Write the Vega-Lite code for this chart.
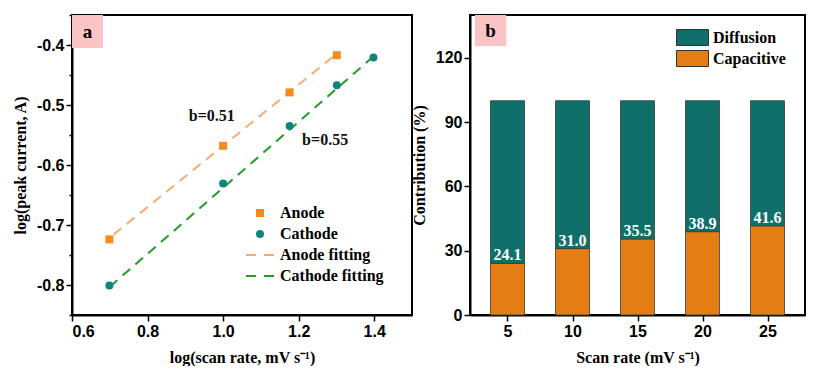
{
  "$schema": "https://vega.github.io/schema/vega-lite/v6.json",
  "padding": {"left": 11, "top": 13, "right": 0, "bottom": 0},
  "background": "white",
  "spacing": -3,
  "resolve": {"scale": {"color": "independent", "shape": "independent"}, "legend": {"color": "independent", "shape": "independent"}},
  "config": {
    "font": "Liberation Serif",
    "view": {"stroke": "black", "strokeWidth": 2},
    "axis": {
      "grid": false,
      "domainColor": "black", "domainWidth": 2,
      "tickColor": "black", "tickWidth": 1.5,
      "labelFont": "Liberation Sans", "labelFontWeight": "bold", "labelFontSize": 16, "labelColor": "black",
      "titleFont": "Liberation Serif", "titleFontWeight": "bold", "titleFontSize": 16, "titleColor": "black",
      "labelPadding": 2
    },
    "legend": {"labelFont": "Liberation Serif", "labelFontWeight": "bold", "labelFontSize": 16, "labelColor": "black"}
  },
  "datasets": {
    "points": [
      {"logv": 0.699, "logi": -0.724, "series": "Anode"},
      {"logv": 1.0, "logi": -0.568, "series": "Anode"},
      {"logv": 1.176, "logi": -0.479, "series": "Anode"},
      {"logv": 1.301, "logi": -0.417, "series": "Anode"},
      {"logv": 0.699, "logi": -0.801, "series": "Cathode"},
      {"logv": 1.0, "logi": -0.631, "series": "Cathode"},
      {"logv": 1.176, "logi": -0.535, "series": "Cathode"},
      {"logv": 1.301, "logi": -0.467, "series": "Cathode"},
      {"logv": 1.398, "logi": -0.421, "series": "Cathode"}
    ],
    "fits": [
      {"logv": 0.71, "logi": -0.716, "series": "Anode fitting"},
      {"logv": 1.30, "logi": -0.415, "series": "Anode fitting"},
      {"logv": 0.70, "logi": -0.803, "series": "Cathode fitting"},
      {"logv": 1.40, "logi": -0.418, "series": "Cathode fitting"}
    ],
    "notes": [
      {"logv": 0.97, "logi": -0.518, "label": "b=0.51"},
      {"logv": 1.27, "logi": -0.559, "label": "b=0.55"}
    ],
    "tagA": [{"x": 0.6, "x2": 0.682, "y": -0.35, "y2": -0.405, "xc": 0.641, "yc": -0.3775, "tag": "a"}],
    "bars": [
      {"rate": 5, "type": "Capacitive", "value": 24.1},
      {"rate": 5, "type": "Diffusion", "value": 75.9},
      {"rate": 10, "type": "Capacitive", "value": 31.0},
      {"rate": 10, "type": "Diffusion", "value": 69.0},
      {"rate": 15, "type": "Capacitive", "value": 35.5},
      {"rate": 15, "type": "Diffusion", "value": 64.5},
      {"rate": 20, "type": "Capacitive", "value": 38.9},
      {"rate": 20, "type": "Diffusion", "value": 61.1},
      {"rate": 25, "type": "Capacitive", "value": 41.6},
      {"rate": 25, "type": "Diffusion", "value": 58.4}
    ],
    "tagB": [{"x": 2.5, "x2": 4.9, "y": 140, "y2": 125.5, "xc": 3.7, "yc": 132.75, "tag": "b"}]
  },
  "hconcat": [
    {
      "width": 340, "height": 300,
      "resolve": {"axis": {"y": "independent"}},
      "layer": [
        {
          "data": {"name": "tagA"},
          "mark": {"type": "rect", "color": "#fbc4c4"},
          "encoding": {
            "x": {"field": "x", "type": "quantitative"},
            "x2": {"field": "x2"},
            "y": {"field": "y", "type": "quantitative",
              "scale": {"domain": [-0.85, -0.35], "nice": false, "zero": false},
              "axis": {"orient": "left", "values": [-0.85, -0.75, -0.65, -0.55, -0.45, -0.35], "labels": false, "domain": false, "tickSize": 3, "title": null}},
            "y2": {"field": "y2"}
          }
        },
        {
          "data": {"name": "fits"},
          "mark": {"type": "line", "strokeDash": [10, 7], "strokeWidth": 2},
          "encoding": {
            "x": {"field": "logv", "type": "quantitative"},
            "y": {"field": "logi", "type": "quantitative", "axis": null},
            "stroke": {"field": "series", "type": "nominal", "legend": null,
              "scale": {"domain": ["Anode fitting", "Cathode fitting"], "range": ["#f7ab76", "#1f9e25"]}}
          }
        },
        {
          "data": {"name": "points"},
          "mark": {"type": "point", "filled": true, "size": 64, "opacity": 1},
          "encoding": {
            "x": {"field": "logv", "type": "quantitative", "title": "log(scan rate, mV s⁻¹)",
              "scale": {"domain": [0.6, 1.5], "nice": false, "zero": false},
              "axis": {"values": [0.6, 0.7, 0.8, 0.9, 1.0, 1.1, 1.2, 1.3, 1.4, 1.5],
                "labelExpr": "round(datum.value*10) % 2 == 0 && datum.value < 1.45 ? format(datum.value, '.1f') : ''",
                "tickSize": {"condition": {"test": "round(datum.value*10) % 2 == 0", "value": 6}, "value": 3},
                "titlePadding": 10}},
            "y": {"field": "logi", "type": "quantitative", "title": "log(peak current, A)",
              "scale": {"domain": [-0.85, -0.35], "nice": false, "zero": false},
              "axis": {"orient": "left", "values": [-0.8, -0.7, -0.6, -0.5, -0.4], "format": ".1f",
                "labelExpr": "replace(datum.label, '−', '-')", "tickSize": 6, "titlePadding": 8}},
            "color": {"field": "series", "type": "nominal",
              "scale": {"domain": ["Anode", "Cathode", "Anode fitting", "Cathode fitting"], "range": ["#fb8a1c", "#0e857b", "#f7ab76", "#1f9e25"]},
              "legend": {"title": null, "orient": "none", "legendX": 180, "legendY": 190, "labelOffset": 12, "rowPadding": 5, "symbolSize": 64, "padding": 0}},
            "shape": {"field": "series", "type": "nominal",
              "scale": {"domain": ["Anode", "Cathode", "Anode fitting", "Cathode fitting"],
                "range": ["square", "circle", "M-3.5,-0.25 H-1 V0.25 H-3.5 Z M1,-0.25 H3.5 V0.25 H1 Z", "M-3.5,-0.25 H-1 V0.25 H-3.5 Z M1,-0.25 H3.5 V0.25 H1 Z"]},
              "legend": {"title": null, "orient": "none", "legendX": 180, "legendY": 190, "labelOffset": 12, "rowPadding": 5, "symbolSize": 64, "padding": 0}}
          }
        },
        {
          "data": {"name": "tagA"},
          "mark": {"type": "text", "font": "Liberation Serif", "fontWeight": "bold", "fontSize": 19, "color": "black", "baseline": "middle"},
          "encoding": {
            "x": {"field": "xc", "type": "quantitative"},
            "y": {"field": "yc", "type": "quantitative", "axis": null},
            "text": {"field": "tag"}
          }
        },
        {
          "data": {"name": "notes"},
          "mark": {"type": "text", "font": "Liberation Serif", "fontWeight": "bold", "fontSize": 16, "color": "#111"},
          "encoding": {
            "x": {"field": "logv", "type": "quantitative"},
            "y": {"field": "logi", "type": "quantitative", "axis": null},
            "text": {"field": "label"}
          }
        }
      ]
    },
    {
      "width": 335, "height": 300,
      "layer": [
        {
          "data": {"name": "bars"},
          "mark": {"type": "bar", "width": 34, "stroke": "#3a3a3a", "strokeWidth": 0.8},
          "encoding": {
            "x": {"field": "rate", "type": "quantitative", "title": "Scan rate (mV s⁻¹)",
              "scale": {"domain": [2.5, 27.5], "nice": false, "zero": false},
              "axis": {"values": [5, 10, 15, 20, 25], "tickSize": 6, "titlePadding": 10}},
            "y": {"field": "value", "type": "quantitative", "stack": "zero", "title": "Contribution (%)",
              "scale": {"domain": [0, 140], "nice": false},
              "axis": {"values": [0, 15, 30, 45, 60, 75, 90, 105, 120, 135],
                "labelExpr": "datum.value % 30 == 0 ? datum.value : ''",
                "tickSize": {"condition": {"test": "datum.value % 30 == 0", "value": 6}, "value": 3},
                "titlePadding": 8}},
            "color": {"field": "type", "type": "nominal",
              "scale": {"domain": ["Diffusion", "Capacitive"], "range": ["#0f6f69", "#e47d14"]},
              "legend": {"title": null, "orient": "none", "legendX": 214, "legendY": 14, "padding": 0,
                "symbolType": "M-2,-1 H2 V1 H-2 Z", "symbolSize": 256, "symbolStrokeColor": "#333", "symbolStrokeWidth": 1,
                "labelOffset": 12, "rowPadding": 0}},
            "order": {"field": "type", "sort": "ascending"}
          }
        },
        {
          "data": {"name": "bars"},
          "transform": [{"filter": "datum.type == 'Capacitive'"}],
          "mark": {"type": "text", "font": "Liberation Serif", "fontWeight": "bold", "fontSize": 16, "color": "white", "baseline": "alphabetic", "dy": -3},
          "encoding": {
            "x": {"field": "rate", "type": "quantitative"},
            "y": {"field": "value", "type": "quantitative"},
            "text": {"field": "value", "type": "quantitative", "format": ".1f"}
          }
        },
        {
          "data": {"name": "tagB"},
          "mark": {"type": "rect", "color": "#fbc4c4"},
          "encoding": {
            "x": {"field": "x", "type": "quantitative"},
            "x2": {"field": "x2"},
            "y": {"field": "y", "type": "quantitative"},
            "y2": {"field": "y2"}
          }
        },
        {
          "data": {"name": "tagB"},
          "mark": {"type": "text", "font": "Liberation Serif", "fontWeight": "bold", "fontSize": 19, "color": "black", "baseline": "middle"},
          "encoding": {
            "x": {"field": "xc", "type": "quantitative"},
            "y": {"field": "yc", "type": "quantitative"},
            "text": {"field": "tag"}
          }
        }
      ]
    }
  ]
}
